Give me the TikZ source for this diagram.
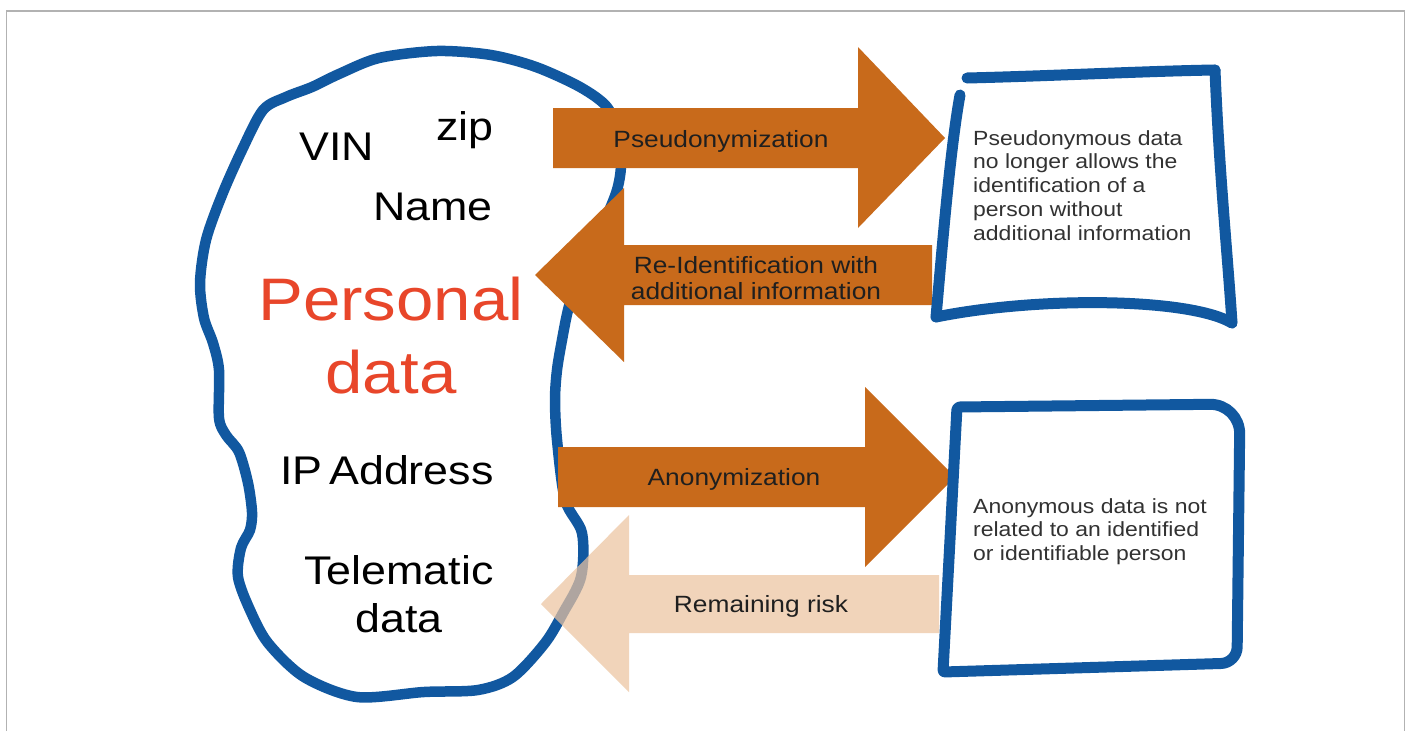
\documentclass[tikz,border=0pt]{standalone}
\usepackage{fontspec}
\setmainfont{Liberation Sans}[FakeStretch=1.12]
\definecolor{blobblue}{RGB}{17,88,160}
\definecolor{arrowbrown}{RGB}{200,106,27}
\definecolor{riskpeach}{RGB}{236,196,160}
\definecolor{personalred}{RGB}{232,70,42}
\definecolor{boxtext}{RGB}{50,50,50}
\definecolor{framegray}{RGB}{178,178,178}
\tikzset{
  outline/.style={draw=blobblue, line width=10.5pt, line cap=round, line join=round},
  flowarrow/.style={fill=arrowbrown},
  riskarrow/.style={fill=riskpeach, fill opacity=0.72},
  item/.style={anchor=base, inner sep=0pt, font=\fontsize{40}{48}\selectfont},
  bigred/.style={anchor=base, inner sep=0pt, text=personalred},
  arrowlabel/.style={anchor=base, inner sep=0pt, text=black!88, font=\fontsize{23.5}{26}\selectfont},
  boxlabel/.style={anchor=base west, inner sep=0pt, text=boxtext},
}
\begin{document}
\begin{tikzpicture}[x=1pt,y=-1pt]
\useasboundingbox (0,0) rectangle (1411,731);
\fill[white] (0,0) rectangle (1411,731);
% thin frame, open at the bottom
\draw[framegray, line width=1.4pt] (6.5,731) -- (6.5,11) -- (1404.5,11) -- (1404.5,731);

% the personal-data blob
\draw[outline] plot[smooth cycle, tension=0.5] coordinates {
  (263,110) (286,97) (312,87) (339,74) (379,58) (437,51) (491,55) (536,67)
  (580,87) (607,107) (618,135) (621,165) (617,190) (605,220) (590,250)
  (577,280) (568,310) (562,340) (557,370) (555,400) (557,440) (565,500)
  (582,533) (581,577) (563,613) (545,643) (513,677) (478,690) (424,692)
  (357,697) (304,677) (268,643) (250,610) (238,577) (241,548) (250,530)
  (252,512) (248,483) (239,452) (226,435) (219,418) (219,370) (213,343)
  (204,318) (200,283) (206,240) (222,195) (242,150)};

% labels inside the blob
\node[item] (vin)  at (337,160) {VIN};
\node[item] (zip)  at (465,140) {zip};
\node[item] (name) at (433,220) {Name};
\node[bigred] (personal) at (391,320)
  {\parbox[t]{320pt}{\centering\fontsize{60}{73}\selectfont Personal\\data}};
\node[item] (ip)   at (387,484) {IP\,Address};
\node[item] (tele) at (399,584)
  {\parbox[t]{260pt}{\centering\fontsize{40}{48}\selectfont Telematic\\data}};

% pseudonymization and re-identification
\fill[flowarrow] (553,108) -- (858,108) -- (858,47) -- (945,138) -- (858,228) -- (858,168) -- (553,168) -- cycle;
\node[arrowlabel] (pseudo) at (721,147) {Pseudonymization};
\fill[flowarrow] (932,245) -- (624,245) -- (624,188) -- (535,275) -- (624,362) -- (624,305) -- (932,305) -- cycle;
\node[arrowlabel] (reid) at (756,273)
  {\parbox[t]{300pt}{\centering\fontsize{23.5}{26}\selectfont Re-Identification with\\additional information}};

% anonymization and remaining risk
\fill[flowarrow] (558,447) -- (865,447) -- (865,387) -- (955,477) -- (865,567) -- (865,507) -- (558,507) -- cycle;
\node[arrowlabel] (anon) at (734,485) {Anonymization};
\fill[riskarrow] (939,575) -- (629,575) -- (629,515) -- (541,604) -- (629,692) -- (629,633) -- (939,633) -- cycle;
\node[arrowlabel] (risk) at (761,612) {Remaining risk};

% pseudonymous-data box, drawn stroke by stroke
\draw[outline, line width=11pt] (967,78) .. controls (1050,76) and (1150,71) .. (1215,70);
\draw[outline, line width=11pt] (1215,70) .. controls (1219,170) and (1228,260) .. (1232,323);
\draw[outline, line width=11pt] (1232,323) .. controls (1190,298) and (1040,296) .. (936,317);
\draw[outline, line width=11pt] (936,317) .. controls (942,250) and (950,150) .. (960,95);
\node[boxlabel] (pseudotext) at (973,145)
  {\parbox[t]{260pt}{\raggedright\fontsize{20.5}{23.8}\selectfont
   Pseudonymous data\\no longer allows the\\identification of a\\person without\\additional information}};

% anonymous-data box
\draw[outline, line width=11pt] (943,672) [rounded corners=3pt] -- (957,407)
  [rounded corners=30pt] -- (1240,404) [rounded corners=16pt] -- (1237,663)
  [rounded corners=2pt] -- cycle;
\node[boxlabel] (anontext) at (973,513)
  {\parbox[t]{260pt}{\raggedright\fontsize{20.5}{23.8}\selectfont
   Anonymous data is not\\related to an identified\\or identifiable person}};
\end{tikzpicture}
\end{document}
